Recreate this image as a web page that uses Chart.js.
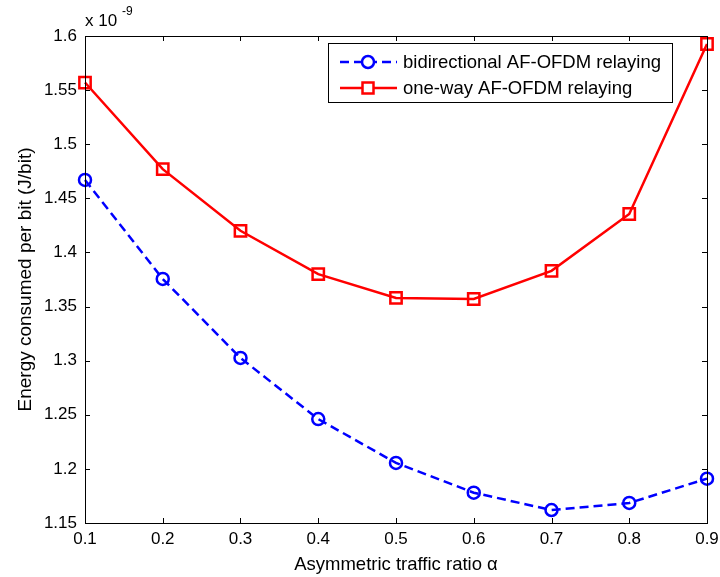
<!DOCTYPE html>
<html>
<head>
<meta charset="utf-8">
<script src="https://cdn.jsdelivr.net/npm/chart.js@4"></script>
<style>
  html, body { margin: 0; padding: 0; background: #fff; }
  #wrap { width: 720px; height: 577px; }
</style>
</head>
<body>
<div id="wrap"><canvas id="chart" width="720" height="577"></canvas></div>
<script>
// waarden in eenheden van 1e-9 J/bit
const ratios = [0.1, 0.2, 0.3, 0.4, 0.5, 0.6, 0.7, 0.8, 0.9];
const bidirectional = [1.467, 1.3755, 1.3025, 1.246, 1.2055, 1.178, 1.162, 1.1685, 1.191];
const oneWay = [1.557, 1.477, 1.420, 1.380, 1.358, 1.357, 1.383, 1.4355, 1.5926];
const seriesNames = ["bidirectional AF-OFDM relaying", "one-way AF-OFDM relaying"];

const FONT = "Liberation Sans, Arial, sans-serif";

function toPoints(ys) {
    return ratios.map((x, i) => ({ x: x, y: ys[i] }));
}

// MATLAB-achtige kader, ticks naar binnen, exponent en legenda
const matlabBox = {
    id: "matlabBox",
    afterDraw(chart) {
        const ctx = chart.ctx;
        const a = chart.chartArea;
        const xs = chart.scales.x, ys = chart.scales.y;
        ctx.save();
        ctx.strokeStyle = "#000";
        ctx.lineWidth = 1;
        ctx.strokeRect(a.left + 0.5, a.top + 0.5, a.right - a.left, a.bottom - a.top);

        const tl = 5;
        ctx.beginPath();
        xs.ticks.forEach(t => {
            const px = Math.round(xs.getPixelForValue(t.value)) + 0.5;
            ctx.moveTo(px, a.bottom); ctx.lineTo(px, a.bottom - tl);
            ctx.moveTo(px, a.top); ctx.lineTo(px, a.top + tl);
        });
        ys.ticks.forEach(t => {
            const py = Math.round(ys.getPixelForValue(t.value)) + 0.5;
            ctx.moveTo(a.left, py); ctx.lineTo(a.left + tl, py);
            ctx.moveTo(a.right, py); ctx.lineTo(a.right - tl, py);
        });
        ctx.stroke();

        // exponent "x 10^-9"
        ctx.fillStyle = "#000";
        ctx.textBaseline = "alphabetic";
        ctx.textAlign = "left";
        ctx.font = "17px " + FONT;
        ctx.fillText("x 10", a.left, 26);
        ctx.font = "12px " + FONT;
        ctx.fillText("-9", a.left + 37, 15);

        // legenda
        const lx = 328, ly = 43, lw = 344, lh = 59;
        ctx.fillStyle = "#fff";
        ctx.fillRect(lx, ly, lw, lh);
        ctx.strokeStyle = "#000";
        ctx.lineWidth = 1;
        ctx.strokeRect(lx + 0.5, ly + 0.5, lw, lh);

        const rows = [
            { y: 62, color: "#0000ff", dash: [9, 5], marker: "circle", text: seriesNames[0] },
            { y: 88, color: "#ff0000", dash: [], marker: "square", text: seriesNames[1] }
        ];
        rows.forEach(r => {
            ctx.strokeStyle = r.color;
            ctx.lineWidth = 2.5;
            ctx.setLineDash(r.dash);
            ctx.beginPath();
            ctx.moveTo(lx + 12, r.y); ctx.lineTo(lx + 69, r.y);
            ctx.stroke();
            ctx.setLineDash([]);
            const cx = lx + 40;
            ctx.fillStyle = "#fff";
            ctx.beginPath();
            if (r.marker === "circle") {
                ctx.arc(cx, r.y, 6, 0, Math.PI * 2);
            } else {
                ctx.rect(cx - 5.5, r.y - 5.5, 11, 11);
            }
            ctx.fill();
            ctx.stroke();
            ctx.fillStyle = "#000";
            ctx.font = "18.5px " + FONT;
            ctx.textBaseline = "middle";
            ctx.fillText(r.text, lx + 75, r.y + 1);
        });
        ctx.restore();
    }
};

const ctx = document.getElementById("chart").getContext("2d");
new Chart(ctx, {
    type: "line",
    data: {
        datasets: [{
            label: seriesNames[0],
            data: toPoints(bidirectional),
            borderColor: "#0000ff",
            backgroundColor: "rgba(0,0,0,0)",
            borderWidth: 2.5,
            borderDash: [9, 5],
            pointStyle: "circle",
            pointRadius: 6,
            pointBorderWidth: 2.5,
            pointBorderColor: "#0000ff",
            pointBackgroundColor: "rgba(0,0,0,0)",
            tension: 0,
            clip: false
        }, {
            label: seriesNames[1],
            data: toPoints(oneWay),
            borderColor: "#ff0000",
            backgroundColor: "rgba(0,0,0,0)",
            borderWidth: 2.5,
            pointStyle: "rect",
            pointRadius: 8,
            pointBorderWidth: 2.5,
            pointBorderColor: "#ff0000",
            pointBackgroundColor: "rgba(0,0,0,0)",
            tension: 0,
            clip: false
        }]
    },
    options: {
        responsive: false,
        animation: false,
        devicePixelRatio: 1,
        layout: { padding: { top: 36, right: 13, left: 0, bottom: 0 } },
        plugins: {
            legend: { display: false },
            tooltip: { enabled: false }
        },
        scales: {
            x: {
                type: "linear",
                min: 0.1,
                max: 0.9,
                grid: { display: false, drawTicks: false },
                border: { display: false },
                ticks: {
                    stepSize: 0.1,
                    padding: 6,
                    color: "#000",
                    font: { family: FONT, size: 17 },
                    maxRotation: 0,
                    callback: v => v.toFixed(1)
                },
                title: {
                    display: true,
                    text: "Asymmetric traffic ratio α",
                    color: "#000",
                    font: { family: FONT, size: 18.5 },
                    padding: { top: 0, bottom: 1 }
                },
                afterFit: s => { s.height = 54; s.paddingLeft = 0; s.paddingRight = 0; }
            },
            y: {
                min: 1.15,
                max: 1.6,
                grid: { display: false, drawTicks: false },
                border: { display: false },
                ticks: {
                    stepSize: 0.05,
                    padding: 8,
                    color: "#000",
                    font: { family: FONT, size: 17 },
                    callback: v => String(parseFloat(v.toFixed(2)))
                },
                title: {
                    display: true,
                    text: "Energy consumed per bit (J/bit)",
                    color: "#000",
                    font: { family: FONT, size: 19 },
                    padding: { top: 14, bottom: 0 }
                },
                afterFit: s => { s.width = 85; s.paddingTop = 0; s.paddingBottom = 0; }
            }
        }
    },
    plugins: [matlabBox]
});
</script>
</body>
</html>
